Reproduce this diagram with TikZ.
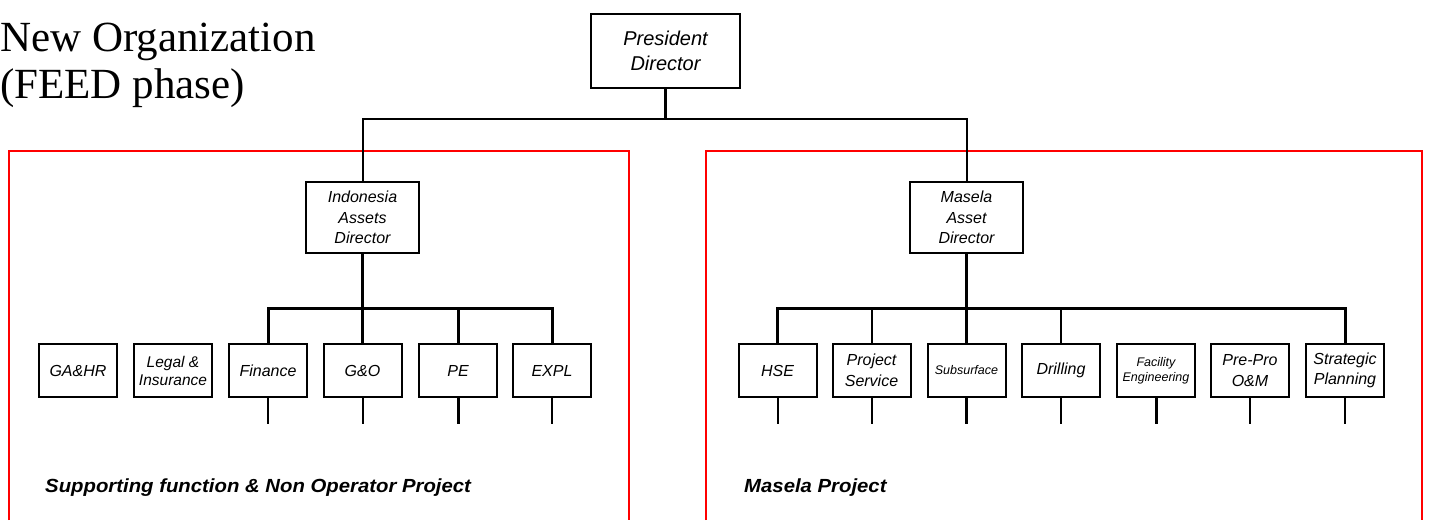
\documentclass[tikz,border=0pt]{standalone}
\usepackage{fontspec}
\usetikzlibrary{shadows}
\setsansfont{Liberation Sans}
\newfontfamily\titlefont{Liberation Serif}
\newfontfamily\areafont[FakeStretch=1.07]{Liberation Sans}

\tikzset{
  org/.style={draw, fill=white, line width=2pt, inner sep=0pt, align=center,
    drop shadow={shadow xshift=0.8pt, shadow yshift=-0.8pt, opacity=1, fill=black},
    font=\sffamily\itshape\fontsize{16}{20.5}\selectfont},
  topbox/.style={org, minimum width=149pt, minimum height=74pt,
    font=\sffamily\itshape\fontsize{20}{25}\selectfont},
  headbox/.style={org, minimum width=113pt, minimum height=71pt},
  unitbox/.style={org, minimum width=78pt, minimum height=53pt},
  smalltext/.style={font=\sffamily\itshape\fontsize{12.5}{15}\selectfont},
  midtext/.style={font=\sffamily\itshape\fontsize{15.5}{18}\selectfont},
  bus/.style={line width=3pt},
  link/.style={line width=2pt},
  redframe/.style={draw=red, line width=2pt},
  arealabel/.style={anchor=base west, inner sep=0pt,
    font=\areafont\bfseries\itshape\fontsize{19}{22}\selectfont},
  titletext/.style={anchor=base west, inner sep=0pt,
    font=\titlefont\fontsize{43}{46}\selectfont}
}

\begin{document}
\begin{tikzpicture}[x=1pt, y=-1pt]
        \useasboundingbox (0,0) rectangle (1430,520);
        % Title
        \node[titletext] (title) at (0,51.7) {New Organization};
        \node[titletext] (phase) at (0,98) {(FEED phase)};

        % Frames
        \draw[redframe] (9,520) -- (9,151) -- (629,151) -- (629,520);
        \draw[redframe] (706,520) -- (706,151) -- (1422,151) -- (1422,520);

        % Directors
        \node[topbox] (pres) at (665.5,51) {President\\Director};
        \node[headbox] (ida) at (362.5,217.5) {Indonesia\\Assets\\Director};
        \node[headbox] (mad) at (966.5,217.5) {Masela\\Asset\\Director};
        \coordinate (topbus) at (665.5,119);
        \draw[bus] (pres) -- (topbus);
        \draw[link] (ida.north) |- (topbus) -| (mad.north);

        % Supporting function units
        \node[unitbox] (gahr) at (78,370.5) {GA\&HR};
        \node[unitbox, midtext] (legal) at (173,370.5) {Legal \&\\Insurance};
        \node[unitbox] (fin) at (268,370.5) {Finance};
        \node[unitbox] (go) at (362.5,370.5) {G\&O};
        \node[unitbox] (pe) at (458,370.5) {PE};
        \node[unitbox] (expl) at (552,370.5) {EXPL};
        \coordinate (lbus) at (362.5,308);
        \draw[bus] (ida) -- (go);
        \draw[bus] (fin.north) |- (lbus) -| (expl.north);
        \draw[link] (fin.north) -- (fin.north |- lbus);
        \draw[link] (expl.north) -- (expl.north |- lbus);
        \draw[bus] (pe.north) -- (pe.north |- lbus);
        \foreach \u in {fin,go,expl}
        {
          \draw[link] (\u.south) -- ++(0,26);
        }
        \draw[bus] (pe.south) -- ++(0,26);

        % Masela project units
        \node[unitbox] (hse) at (777.5,370.5) {HSE};
        \node[unitbox] (psvc) at (871.5,370.5) {Project\\Service};
        \node[unitbox, smalltext] (subs) at (966.5,370.5) {Subsurface};
        \node[unitbox] (drill) at (1061,370.5) {Drilling};
        \node[unitbox, smalltext] (facil) at (1156,370.5) {Facility\\Engineering};
        \node[unitbox] (prepro) at (1250,370.5) {Pre-Pro\\O\&M};
        \node[unitbox] (strat) at (1345,370.5) {Strategic\\Planning};
        \coordinate (rbus) at (966.5,308);
        \draw[bus] (mad) -- (subs);
        \draw[bus] (hse.north) |- (rbus) -| (strat.north);
        \foreach \u in {hse,psvc,drill,strat}
        {
          \draw[link] (\u.north) -- (\u.north |- rbus);
        }
        \foreach \u in {hse,psvc,drill,prepro,strat}
        {
          \draw[link] (\u.south) -- ++(0,26);
        }
        \draw[bus] (subs.south) -- ++(0,26);
        \draw[bus] (facil.south) -- ++(0,26);

        % Area labels
        \node[arealabel] (support) at (45,492) {Supporting function \& Non Operator Project};
        \node[arealabel] (masela) at (744,492) {Masela Project};
    \end{tikzpicture}
\end{document}
